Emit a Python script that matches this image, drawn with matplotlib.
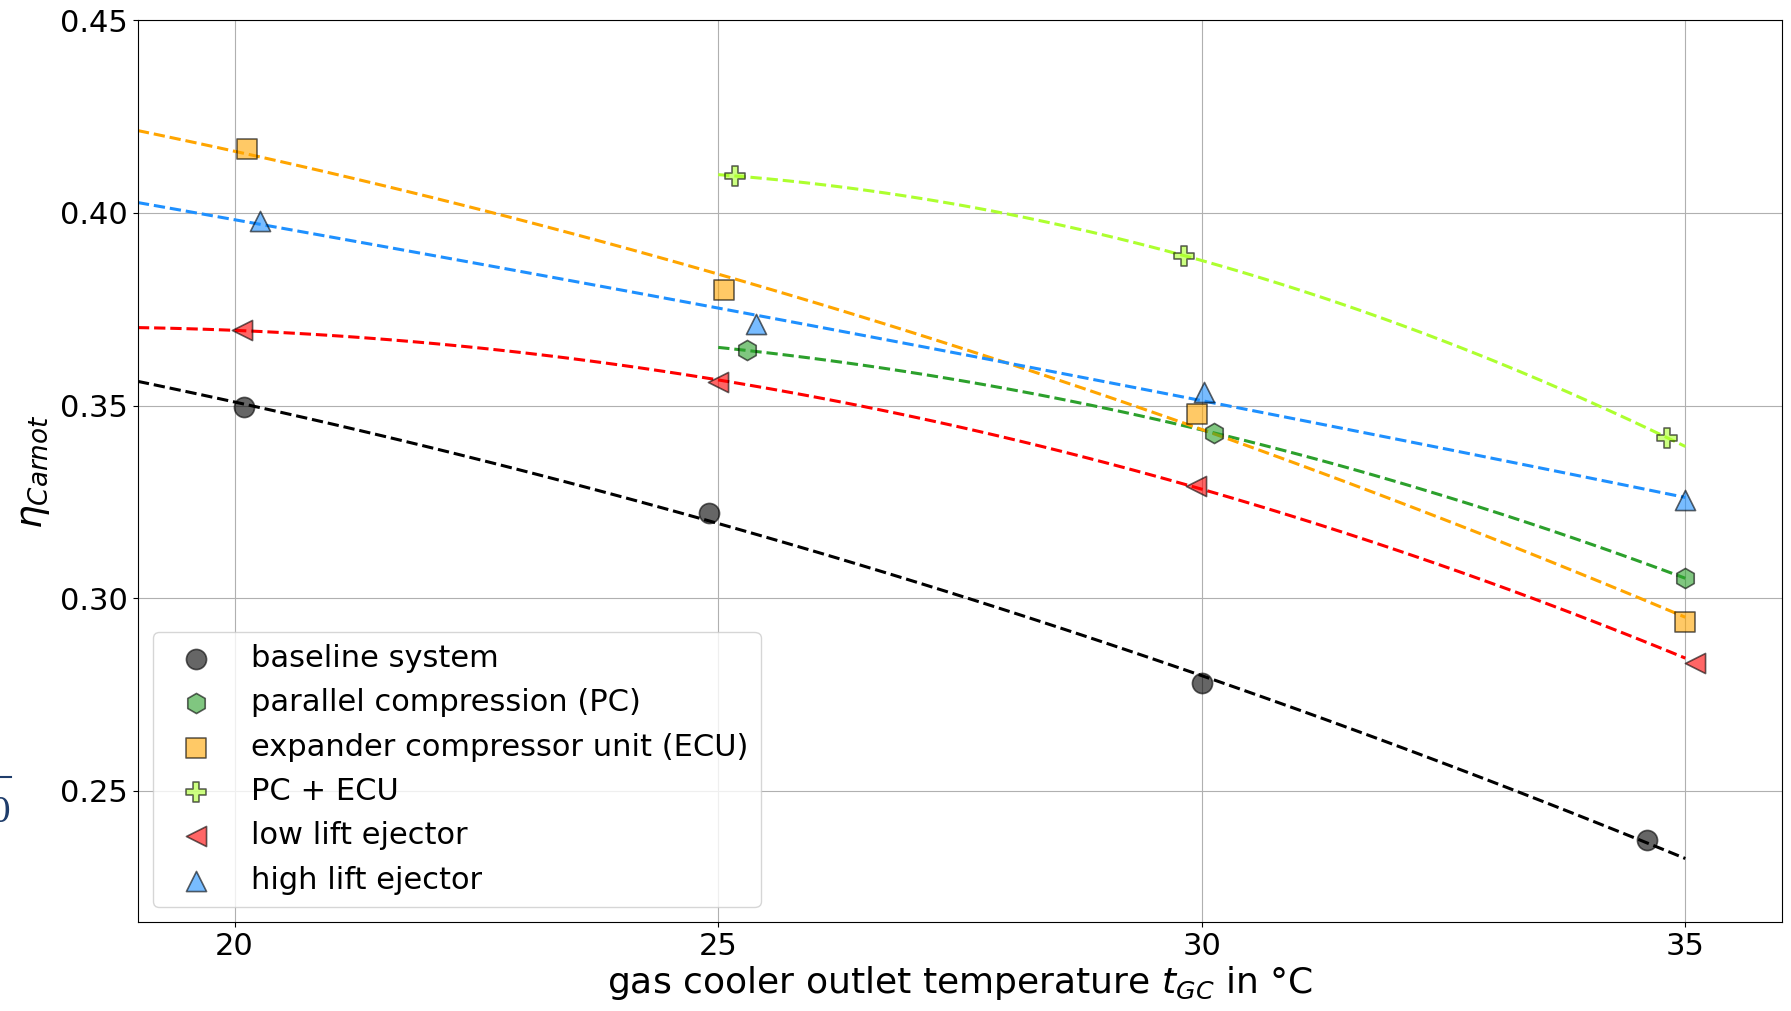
import numpy as np
import matplotlib.pyplot as plt
from matplotlib.lines import Line2D

# measured points (gas cooler outlet temperature, Carnot efficiency)
t_base = [20.1, 24.9, 30.0, 34.6]
eta_base = [0.3497, 0.3221, 0.2779, 0.2373]

t_pc = [25.3, 30.13, 35.0]
eta_pc = [0.3643, 0.3429, 0.3052]

t_ecu = [20.13, 25.06, 29.95, 35.0]
eta_ecu = [0.4165, 0.3800, 0.3479, 0.2939]

t_pcecu = [25.17, 29.82, 34.81]
eta_pcecu = [0.4096, 0.3889, 0.3417]

t_low = [20.08, 25.0, 29.94, 35.1]
eta_low = [0.3696, 0.3562, 0.3292, 0.2833]

t_high = [20.26, 25.39, 30.02, 35.0]
eta_high = [0.3978, 0.3711, 0.3536, 0.3254]

labels = ["baseline system", "parallel compression (PC)",
          "expander compressor unit (ECU)", "PC + ECU",
          "low lift ejector", "high lift ejector"]

series = [
    (t_base, eta_base, "black", "o", 19),
    (t_pc, eta_pc, "tab:green", "h", 25),
    (t_ecu, eta_ecu, "orange", "s", 19),
    (t_pcecu, eta_pcecu, "greenyellow", "P", 25),
    (t_low, eta_low, "red", "<", 19),
    (t_high, eta_high, "dodgerblue", "^", 19),
]

fig = plt.figure(figsize=(17.91, 10.11), dpi=100)
ax = fig.add_axes([0.077, 0.088, 0.918, 0.892])

for (t, eta, color, marker, t_start), label in zip(series, labels):
    ax.scatter(t, eta, s=210, marker=marker, color=color, alpha=0.6,
               edgecolors="k", linewidths=1.2, label=label, zorder=3)
    # quadratic trend line
    coef = np.polyfit(t, eta, 2)
    tt = np.linspace(t_start, 35, 100)
    ax.plot(tt, np.polyval(coef, tt), "--", color=color, lw=2.2, zorder=2)

ax.set_xlim(19, 36)
ax.set_ylim(0.216, 0.45)
ax.set_xticks([20, 25, 30, 35])
ax.set_yticks([0.25, 0.30, 0.35, 0.40, 0.45])
ax.tick_params(labelsize=22)
ax.grid(True)
ax.set_xlabel(r"gas cooler outlet temperature $t_{GC}$ in °C", fontsize=26, labelpad=2)
ax.set_ylabel(r"$\eta_{Carnot}$", fontsize=27, labelpad=6)

ax.legend(loc="lower left", fontsize=22, borderaxespad=0.5)

# fragments of the surrounding page at the left border
fig.add_artist(Line2D([0.0, 0.006], [0.231, 0.231], color="#1f3d6b", lw=1.5))
fig.text(0.0, 0.180, "0", fontsize=24, color="#1f3d6b", family="DejaVu Serif",
         ha="center", va="bottom")

fig.savefig("out.png", dpi=100)
